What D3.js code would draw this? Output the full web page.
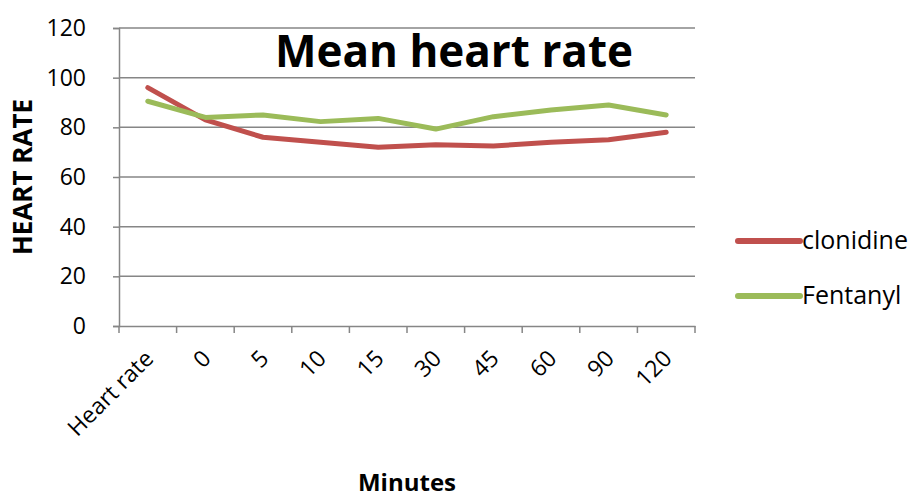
<!DOCTYPE html>
<html><head><meta charset="utf-8">
<script src="https://cdn.jsdelivr.net/npm/d3@7"></script>
<style>body{margin:0;background:#fff}svg{display:block}text{font-family:"Open Sans",sans-serif}</style>
</head><body><svg id="c" width="915" height="498"></svg>
<script>
const categories = ["Heart rate","0","5","10","15","30","45","60","90","120"];
const clonidine = [96,83,76,74,72,73,72.5,74,75,78];
const fentanyl  = [90.5,84,85,82.3,83.6,79.3,84.3,87,89,85];
const yTicks = [0,20,40,60,80,100,120];
const seriesNames = ["clonidine","Fentanyl"];
const colors = ["#C0504D","#9BBB59"];

const svg = d3.select("#c");
const L=119, R=695, T=28, B=326;
const x = d3.scaleBand().domain(categories).range([L,R]);
const y = d3.scaleLinear().domain([0,120]).range([B,T]);
const grey="#868686";
const FF = "'Open Sans',sans-serif";

// gridlines
svg.append("g").selectAll("line").data(yTicks.filter(d=>d>0)).join("line")
  .attr("x1",L).attr("x2",R).attr("y1",d=>y(d)).attr("y2",d=>y(d))
  .attr("stroke",grey).attr("stroke-width",1.5);

// y axis
const ya = svg.append("g").attr("transform",`translate(${L},0)`)
  .call(d3.axisLeft(y).tickValues(yTicks).tickSize(6).tickPadding(27));
ya.select(".domain").attr("stroke",grey).attr("stroke-width",1.5);
ya.selectAll(".tick line").attr("stroke",grey).attr("stroke-width",1.5);
ya.selectAll(".tick text").attr("font-size",23).attr("fill","#000").attr("font-family",FF);

// x axis
const xa = svg.append("g").attr("transform",`translate(0,${B})`)
  .call(d3.axisBottom(x).tickSize(0).tickFormat(""));
xa.select(".domain").attr("stroke",grey).attr("stroke-width",1.5);
const bounds = categories.map((c)=>x(c)).concat([R]);
xa.selectAll(".bt").data(bounds).join("line").attr("class","bt")
  .attr("x1",d=>d).attr("x2",d=>d).attr("y1",0).attr("y2",7)
  .attr("stroke",grey).attr("stroke-width",1.5);
xa.selectAll(".xl").data(categories).join("text").attr("class","xl")
  .attr("transform",d=>`translate(${x(d)+x.bandwidth()/2+7},34) rotate(-45)`)
  .attr("text-anchor","end").attr("font-size",23).attr("fill","#000").text(d=>d);

// lines
const line = d3.line().x((d,i)=>x(categories[i])+x.bandwidth()/2).y(d=>y(d));
[clonidine,fentanyl].forEach((s,i)=>{
  svg.append("path").datum(s).attr("d",line).attr("fill","none")
    .attr("stroke",colors[i]).attr("stroke-width",5).attr("stroke-linejoin","round").attr("stroke-linecap","round");
});

// title
svg.append("text").attr("x",454).attr("y",67).attr("text-anchor","middle")
  .attr("font-size",44).attr("font-weight","bold").attr("fill","#000").text("Mean heart rate");

// axis titles
svg.append("text").attr("transform","translate(32,177) rotate(-90)").attr("text-anchor","middle")
  .attr("font-size",26).attr("font-weight","bold").attr("fill","#000").text("HEART RATE");
svg.append("text").attr("x",407).attr("y",491).attr("text-anchor","middle")
  .attr("font-size",24).attr("font-weight","bold").attr("fill","#000").text("Minutes");

// legend
const lg = svg.append("g").selectAll("g").data(seriesNames).join("g")
  .attr("transform",(d,i)=>`translate(738,${241+i*55})`);
lg.append("line").attr("x1",0).attr("x2",62).attr("stroke",(d,i)=>colors[i]).attr("stroke-width",6).attr("stroke-linecap","round");
lg.append("text").attr("x",64).attr("y",8).attr("font-size",25).attr("fill","#000").text(d=>d);
</script></body></html>
